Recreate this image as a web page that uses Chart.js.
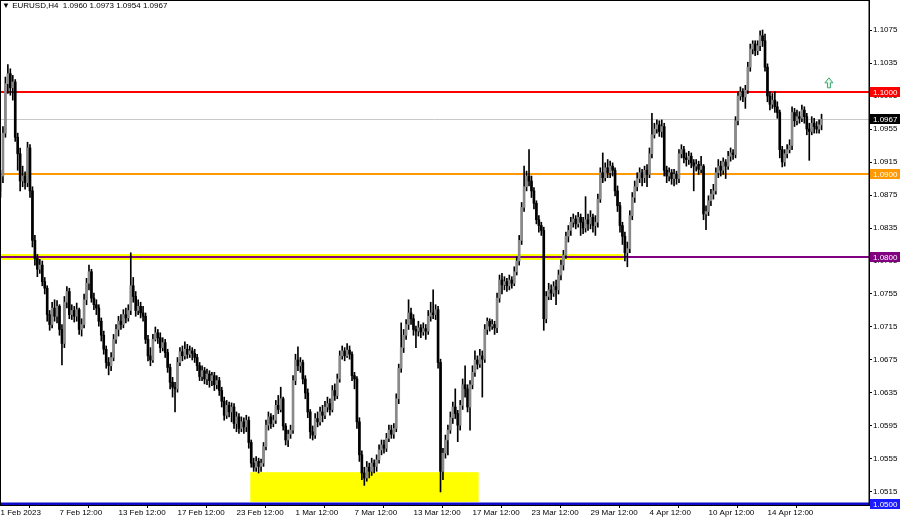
<!DOCTYPE html>
<html>
<head>
<meta charset="utf-8">
<script src="https://cdn.jsdelivr.net/npm/chart.js@4.4.0/dist/chart.umd.min.js"></script>
<style>
html, body { margin: 0; padding: 0; background: #fff; }
#wrap { position: relative; width: 900px; height: 519px; }
#hdr { position: absolute; left: 2px; top: 0; font: 8px "Liberation Sans", Arial, sans-serif; color: #000; white-space: pre; line-height: 12px; }
</style>
</head>
<body>
<div id="wrap">
  <canvas id="myChart" width="900" height="519"></canvas>
  <div id="hdr">▼ EURUSD,H4  1.0960 1.0973 1.0954 1.0967</div>
</div>
<script>
// EURUSD H4 candles (index 0 = 1 Feb 12:00)
var opens = [
1.0880,1.0898,1.0950,1.1010,1.1022,1.1005,1.1012,1.0945,1.0925,1.0892,
1.0898,1.0890,1.0932,1.0880,1.0820,1.0798,1.0785,1.0790,1.0770,1.0762,
1.0730,1.0718,1.0738,1.0728,1.0740,1.0712,1.0695,1.0745,1.0758,1.0730,
1.0735,1.0728,1.0736,1.0712,1.0718,1.0748,1.0768,1.0782,1.0750,1.0742,
1.0738,1.0722,1.0705,1.0688,1.0672,1.0668,1.0678,1.0700,1.0712,1.0722,
1.0718,1.0730,1.0726,1.0735,1.0765,1.0752,1.0735,1.0740,1.0732,1.0728,
1.0700,1.0680,1.0675,1.0700,1.0708,1.0702,1.0690,1.0696,1.0684,1.0666,
1.0648,1.0642,1.0640,1.0672,1.0685,1.0680,1.0688,1.0682,1.0686,1.0683,
1.0678,1.0668,1.0655,1.0662,1.0652,1.0658,1.0650,1.0656,1.0645,1.0650,
1.0638,1.0625,1.0608,1.0620,1.0612,1.0618,1.0598,1.0606,1.0592,1.0600,
1.0594,1.0602,1.0575,1.0550,1.0545,1.0552,1.0546,1.0550,1.0570,1.0596,
1.0606,1.0598,1.0602,1.0620,1.0615,1.0628,1.0595,1.0578,1.0585,1.0590,
1.0650,1.0675,1.0668,1.0672,1.0652,1.0635,1.0612,1.0588,1.0584,1.0604,
1.0600,1.0612,1.0608,1.0618,1.0622,1.0615,1.0638,1.0632,1.0652,1.0680,
1.0686,1.0680,1.0687,1.0682,1.0656,1.0652,1.0600,1.0560,1.0538,1.0532,
1.0545,1.0540,1.0550,1.0546,1.0554,1.0566,1.0572,1.0568,1.0580,1.0590,
1.0585,1.0592,1.0628,1.0665,1.0690,1.0705,1.0718,1.0732,1.0725,1.0712,
1.0710,1.0714,1.0709,1.0713,1.0710,1.0728,1.0732,1.0730,1.0736,1.0672,
1.0540,1.0562,1.0578,1.0590,1.0605,1.0618,1.0610,1.0596,1.0620,1.0645,
1.0640,1.0618,1.0645,1.0660,1.0675,1.0670,1.0680,1.0676,1.0712,1.0722,
1.0716,1.0718,1.0714,1.0750,1.0772,1.0766,1.0770,1.0765,1.0772,1.0768,
1.0782,1.0795,1.0820,1.0860,1.0885,1.0898,1.0892,1.0880,1.0865,1.0845,
1.0838,1.0832,1.0725,1.0752,1.0760,1.0756,1.0764,1.0760,1.0778,1.0790,
1.0802,1.0825,1.0832,1.0842,1.0846,1.0840,1.0848,1.0842,1.0835,1.0845,
1.0840,1.0848,1.0838,1.0842,1.0870,1.0902,1.0896,1.0908,1.0902,1.0910,
1.0905,1.0880,1.0862,1.0838,1.0825,1.0805,1.0810,1.0850,1.0872,1.0885,
1.0895,1.0902,1.0896,1.0905,1.0900,1.0925,1.0948,1.0955,1.0960,1.0952,
1.0958,1.0905,1.0898,1.0902,1.0895,1.0900,1.0895,1.0925,1.0930,1.0920,
1.0918,1.0922,1.0914,1.0910,1.0912,1.0906,1.0910,1.0852,1.0855,1.0868,
1.0876,1.0880,1.0902,1.0910,1.0905,1.0915,1.0910,1.0922,1.0926,1.0924,
1.0965,1.0995,1.1000,1.0994,1.1002,1.1030,1.1052,1.1058,1.1050,1.1056,
1.1068,1.1062,1.1030,1.0995,1.0985,1.0990,1.0982,1.0975,1.0930,1.0915,
1.0925,1.0930,1.0935,1.0975,1.0965,1.0970,1.0968,1.0978,1.0970,1.0955,
1.0952,1.0962,1.0958,1.0955,1.0960
];
var highs = [
1.0905,1.0958,1.1018,1.1033,1.1028,1.1020,1.1015,1.0950,1.0932,1.0910,
1.0903,1.0939,1.0936,1.0885,1.0826,1.0803,1.0797,1.0795,1.0775,1.0765,
1.0735,1.0745,1.0748,1.0747,1.0742,1.0718,1.0752,1.0764,1.0762,1.0742,
1.0740,1.0744,1.0738,1.0725,1.0755,1.0774,1.0790,1.0785,1.0756,1.0748,
1.0742,1.0726,1.0710,1.0692,1.0678,1.0684,1.0706,1.0718,1.0728,1.0730,
1.0736,1.0738,1.0742,1.0805,1.0775,1.0758,1.0748,1.0745,1.0740,1.0732,
1.0705,1.0690,1.0706,1.0715,1.0712,1.0708,1.0702,1.0700,1.0688,1.0670,
1.0654,1.0648,1.0678,1.0690,1.0692,1.0697,1.0694,1.0692,1.0690,1.0688,
1.0682,1.0672,1.0668,1.0666,1.0664,1.0662,1.0660,1.0660,1.0656,1.0654,
1.0642,1.0630,1.0626,1.0624,1.0623,1.0622,1.0612,1.0610,1.0606,1.0605,
1.0608,1.0606,1.0578,1.0556,1.0558,1.0556,1.0555,1.0575,1.0602,1.0612,
1.0610,1.0608,1.0626,1.0632,1.0642,1.0630,1.0598,1.0590,1.0596,1.0656,
1.0682,1.0691,1.0678,1.0675,1.0656,1.0640,1.0615,1.0595,1.0610,1.0612,
1.0618,1.0620,1.0625,1.0630,1.0628,1.0644,1.0646,1.0658,1.0686,1.0692,
1.0690,1.0695,1.0692,1.0685,1.0660,1.0655,1.0605,1.0565,1.0545,1.0552,
1.0550,1.0556,1.0554,1.0560,1.0572,1.0578,1.0578,1.0586,1.0596,1.0596,
1.0598,1.0634,1.0670,1.0720,1.0712,1.0724,1.0748,1.0738,1.0730,1.0716,
1.0722,1.0718,1.0720,1.0718,1.0735,1.0745,1.0760,1.0742,1.0740,1.0676,
1.0568,1.0584,1.0596,1.0612,1.0624,1.0640,1.0614,1.0626,1.0652,1.0668,
1.0645,1.0650,1.0668,1.0686,1.0680,1.0688,1.0686,1.0718,1.0726,1.0725,
1.0724,1.0722,1.0756,1.0778,1.0780,1.0776,1.0774,1.0778,1.0776,1.0788,
1.0800,1.0826,1.0866,1.0910,1.0904,1.0930,1.0898,1.0884,1.0868,1.0850,
1.0842,1.0836,1.0758,1.0768,1.0766,1.0770,1.0772,1.0784,1.0796,1.0808,
1.0830,1.0838,1.0848,1.0852,1.0850,1.0854,1.0852,1.0848,1.0873,1.0852,
1.0856,1.0852,1.0850,1.0876,1.0908,1.0926,1.0914,1.0918,1.0916,1.0914,
1.0908,1.0886,1.0866,1.0842,1.0830,1.0818,1.0856,1.0878,1.0892,1.0902,
1.0908,1.0906,1.0910,1.0912,1.0932,1.0974,1.0962,1.0966,1.0965,1.0966,
1.0962,1.0910,1.0908,1.0906,1.0906,1.0904,1.0930,1.0936,1.0934,1.0926,
1.0928,1.0926,1.0918,1.0918,1.0916,1.0922,1.0912,1.0862,1.0874,1.0882,
1.0888,1.0908,1.0918,1.0916,1.0920,1.0918,1.0928,1.0932,1.0930,1.0970,
1.1000,1.1006,1.1004,1.1008,1.1036,1.1058,1.1062,1.1062,1.1062,1.1074,
1.1075,1.1070,1.1034,1.1000,1.0998,1.1000,1.0988,1.0978,1.0934,1.0930,
1.0936,1.0942,1.0982,1.0980,1.0978,1.0976,1.0984,1.0982,1.0974,1.0962,
1.0970,1.0968,1.0964,1.0966,1.0973
];
var lows = [
1.0872,1.0890,1.0945,1.0998,1.0996,1.0990,1.0940,1.0905,1.0880,1.0885,
1.0882,1.0885,1.0872,1.0812,1.0790,1.0776,1.0780,1.0765,1.0755,1.0722,
1.0711,1.0714,1.0722,1.0720,1.0705,1.0669,1.0690,1.0738,1.0725,1.0724,
1.0721,1.0722,1.0706,1.0704,1.0714,1.0742,1.0760,1.0745,1.0736,1.0730,
1.0716,1.0698,1.0682,1.0665,1.0657,1.0662,1.0674,1.0695,1.0704,1.0712,
1.0714,1.0720,1.0722,1.0730,1.0745,1.0728,1.0730,1.0726,1.0722,1.0695,
1.0674,1.0668,1.0672,1.0698,1.0695,1.0684,1.0686,1.0678,1.0660,1.0640,
1.0630,1.0612,1.0636,1.0668,1.0674,1.0676,1.0677,1.0678,1.0675,1.0672,
1.0662,1.0650,1.0650,1.0646,1.0645,1.0642,1.0644,1.0638,1.0640,1.0632,
1.0618,1.0602,1.0604,1.0606,1.0600,1.0592,1.0588,1.0586,1.0588,1.0586,
1.0588,1.0568,1.0545,1.0540,1.0540,1.0538,1.0540,1.0546,1.0566,1.0590,
1.0592,1.0594,1.0598,1.0610,1.0612,1.0590,1.0572,1.0570,1.0580,1.0586,
1.0645,1.0662,1.0660,1.0646,1.0628,1.0605,1.0580,1.0578,1.0580,1.0594,
1.0596,1.0600,1.0604,1.0612,1.0608,1.0612,1.0626,1.0628,1.0648,1.0676,
1.0674,1.0678,1.0676,1.0650,1.0640,1.0592,1.0552,1.0530,1.0523,1.0528,
1.0532,1.0535,1.0538,1.0540,1.0550,1.0560,1.0562,1.0564,1.0576,1.0580,
1.0580,1.0588,1.0622,1.0660,1.0684,1.0700,1.0712,1.0718,1.0705,1.0690,
1.0704,1.0702,1.0705,1.0700,1.0706,1.0722,1.0725,1.0724,1.0665,1.0515,
1.0530,1.0556,1.0560,1.0586,1.0598,1.0604,1.0576,1.0590,1.0615,1.0630,
1.0612,1.0590,1.0640,1.0655,1.0664,1.0666,1.0630,1.0672,1.0706,1.0710,
1.0712,1.0706,1.0708,1.0745,1.0755,1.0760,1.0758,1.0760,1.0762,1.0765,
1.0778,1.0790,1.0815,1.0855,1.0880,1.0886,1.0872,1.0858,1.0840,1.0830,
1.0826,1.0711,1.0720,1.0748,1.0748,1.0752,1.0742,1.0755,1.0772,1.0784,
1.0798,1.0818,1.0826,1.0836,1.0834,1.0836,1.0826,1.0828,1.0830,1.0832,
1.0834,1.0830,1.0826,1.0836,1.0866,1.0890,1.0892,1.0896,1.0896,1.0898,
1.0874,1.0855,1.0830,1.0815,1.0795,1.0788,1.0805,1.0845,1.0866,1.0880,
1.0890,1.0886,1.0890,1.0885,1.0896,1.0920,1.0944,1.0950,1.0946,1.0945,
1.0898,1.0890,1.0892,1.0888,1.0886,1.0888,1.0890,1.0920,1.0914,1.0910,
1.0912,1.0908,1.0880,1.0904,1.0900,1.0902,1.0845,1.0833,1.0850,1.0862,
1.0870,1.0876,1.0896,1.0898,1.0900,1.0895,1.0906,1.0916,1.0918,1.0920,
1.0960,1.0990,1.0988,1.0980,1.0998,1.1025,1.1046,1.1044,1.1045,1.1050,
1.1055,1.1025,1.0988,1.0978,1.0980,1.0975,1.0968,1.0920,1.0909,1.0910,
1.0920,1.0926,1.0930,1.0958,1.0960,1.0962,1.0964,1.0962,1.0948,1.0917,
1.0948,1.0950,1.0950,1.0950,1.0954
];
var closes = [
1.0898,1.0950,1.1010,1.1022,1.1005,1.1012,1.0945,1.0925,1.0892,1.0898,
1.0890,1.0932,1.0880,1.0820,1.0798,1.0785,1.0790,1.0770,1.0762,1.0730,
1.0718,1.0738,1.0728,1.0740,1.0712,1.0695,1.0745,1.0758,1.0730,1.0735,
1.0728,1.0736,1.0712,1.0718,1.0748,1.0768,1.0782,1.0750,1.0742,1.0738,
1.0722,1.0705,1.0688,1.0672,1.0668,1.0678,1.0700,1.0712,1.0722,1.0718,
1.0730,1.0726,1.0735,1.0765,1.0752,1.0735,1.0740,1.0732,1.0728,1.0700,
1.0680,1.0675,1.0700,1.0708,1.0702,1.0690,1.0696,1.0684,1.0666,1.0648,
1.0642,1.0640,1.0672,1.0685,1.0680,1.0688,1.0682,1.0686,1.0683,1.0678,
1.0668,1.0655,1.0662,1.0652,1.0658,1.0650,1.0656,1.0645,1.0650,1.0638,
1.0625,1.0608,1.0620,1.0612,1.0618,1.0598,1.0606,1.0592,1.0600,1.0594,
1.0602,1.0575,1.0550,1.0545,1.0552,1.0546,1.0550,1.0570,1.0596,1.0606,
1.0598,1.0602,1.0620,1.0615,1.0628,1.0595,1.0578,1.0585,1.0590,1.0650,
1.0675,1.0668,1.0672,1.0652,1.0635,1.0612,1.0588,1.0584,1.0604,1.0600,
1.0612,1.0608,1.0618,1.0622,1.0615,1.0638,1.0632,1.0652,1.0680,1.0686,
1.0680,1.0687,1.0682,1.0656,1.0652,1.0600,1.0560,1.0538,1.0532,1.0545,
1.0540,1.0550,1.0546,1.0554,1.0566,1.0572,1.0568,1.0580,1.0590,1.0585,
1.0592,1.0628,1.0665,1.0690,1.0705,1.0718,1.0732,1.0725,1.0712,1.0710,
1.0714,1.0709,1.0713,1.0710,1.0728,1.0732,1.0730,1.0736,1.0672,1.0540,
1.0562,1.0578,1.0590,1.0605,1.0618,1.0610,1.0596,1.0620,1.0645,1.0640,
1.0618,1.0645,1.0660,1.0675,1.0670,1.0680,1.0676,1.0712,1.0722,1.0716,
1.0718,1.0714,1.0750,1.0772,1.0766,1.0770,1.0765,1.0772,1.0768,1.0782,
1.0795,1.0820,1.0860,1.0885,1.0898,1.0892,1.0880,1.0865,1.0845,1.0838,
1.0832,1.0725,1.0752,1.0760,1.0756,1.0764,1.0760,1.0778,1.0790,1.0802,
1.0825,1.0832,1.0842,1.0846,1.0840,1.0848,1.0842,1.0835,1.0845,1.0840,
1.0848,1.0838,1.0842,1.0870,1.0902,1.0896,1.0908,1.0902,1.0910,1.0905,
1.0880,1.0862,1.0838,1.0825,1.0805,1.0810,1.0850,1.0872,1.0885,1.0895,
1.0902,1.0896,1.0905,1.0900,1.0925,1.0948,1.0955,1.0960,1.0952,1.0958,
1.0905,1.0898,1.0902,1.0895,1.0900,1.0895,1.0925,1.0930,1.0920,1.0918,
1.0922,1.0914,1.0910,1.0912,1.0906,1.0910,1.0852,1.0855,1.0868,1.0876,
1.0880,1.0902,1.0910,1.0905,1.0915,1.0910,1.0922,1.0926,1.0924,1.0965,
1.0995,1.1000,1.0994,1.1002,1.1030,1.1052,1.1058,1.1050,1.1056,1.1068,
1.1062,1.1030,1.0995,1.0985,1.0990,1.0982,1.0975,1.0930,1.0915,1.0925,
1.0930,1.0935,1.0975,1.0965,1.0970,1.0968,1.0978,1.0970,1.0955,1.0952,
1.0962,1.0958,1.0955,1.0960,1.0967
];

// time axis labels (candle index where each label sits)
var xTickIdx = [0, 24, 48, 72, 96, 120, 144, 168, 192, 216, 240, 264, 288, 312];
var xTickText = ['1 Feb 2023', '7 Feb 12:00', '13 Feb 12:00', '17 Feb 12:00', '23 Feb 12:00', '1 Mar 12:00',
    '7 Mar 12:00', '13 Mar 12:00', '17 Mar 12:00', '23 Mar 12:00', '29 Mar 12:00', '4 Apr 12:00',
    '10 Apr 12:00', '14 Apr 12:00'];
var yTicks = [1.1075, 1.1035, 1.0995, 1.0955, 1.0915, 1.0875, 1.0835, 1.0795, 1.0755, 1.0715,
    1.0675, 1.0635, 1.0595, 1.0555, 1.0515];

// horizontal levels drawn on the chart
var levelPrices = [1.1000, 1.0900, 1.0800, 1.0500];
var levelColors = ['#ff0000', '#ff9900', '#800080', '#0a0ac8'];
var lastPrice = 1.0967;

// support zone (candle index range and price range)
var zoneFrom = 101.6, zoneTo = 194.5, zoneLow = 1.0503, zoneHigh = 1.0539;
var bandEnd = 253.3;      // yellow band on 1.0800 runs up to this candle
var arrowIdx = 337, arrowPrice = 1.1011;

var FONT = '"Liberation Sans", Arial, sans-serif';

var wicks = lows.map(function(lo, i){
    return {x: i, y: [lo, highs[i]]};
});
var bodies = opens.map(function(o, i){
    return {x: i, y: [o, closes[i]]};
});

var levelsPlugin = {
    id: 'levels',
    beforeDatasetsDraw: function(chart){
        var c = chart.ctx, xs = chart.scales.x, ys = chart.scales.y, a = chart.chartArea;
        c.save();
        c.beginPath();
        c.rect(a.left, a.top, a.right - a.left, a.bottom - a.top);
        c.clip();

        // yellow zone
        var zx0 = xs.getPixelForValue(zoneFrom), zx1 = xs.getPixelForValue(zoneTo);
        var zy0 = ys.getPixelForValue(zoneHigh), zy1 = ys.getPixelForValue(zoneLow);
        c.fillStyle = '#ffff00';
        c.fillRect(zx0, zy0, zx1 - zx0, zy1 - zy0);

        // yellow band under the 1.0800 level
        var by = Math.round(ys.getPixelForValue(1.0800));
        c.fillRect(a.left, by - 3, xs.getPixelForValue(bandEnd) - a.left, 6);

        // last price line
        var ly = Math.round(ys.getPixelForValue(lastPrice)) + 0.5;
        c.strokeStyle = '#c8c8c8';
        c.lineWidth = 1;
        c.beginPath();
        c.moveTo(a.left, ly);
        c.lineTo(a.right, ly);
        c.stroke();

        for (var i = 0; i < levelPrices.length; i++){
            var y = Math.round(ys.getPixelForValue(levelPrices[i]));
            c.strokeStyle = levelColors[i];
            c.lineWidth = i == 3 ? 3 : 2;
            c.beginPath();
            c.moveTo(a.left, y);
            c.lineTo(a.right, y);
            c.stroke();
        }
        c.restore();
    },
    afterDraw: function(chart){
        var c = chart.ctx, xs = chart.scales.x, ys = chart.scales.y, a = chart.chartArea;
        c.save();
        // frame
        c.strokeStyle = '#000';
        c.lineWidth = 1;
        c.strokeRect(a.left + 0.5, a.top + 0.5, a.right - a.left - 0.5, a.bottom - a.top);

        // price boxes on the right axis
        var boxPrices = [levelPrices[0], lastPrice, levelPrices[1], levelPrices[2], levelPrices[3]];
        var boxColors = [levelColors[0], '#000000', levelColors[1], levelColors[2], '#1a1aff'];
        c.font = '8px ' + FONT;
        c.textBaseline = 'middle';
        c.textAlign = 'left';
        for (var i = 0; i < boxPrices.length; i++){
            var y = Math.round(ys.getPixelForValue(boxPrices[i]));
            c.fillStyle = boxColors[i];
            c.fillRect(a.right + 1, y - 5, 31, 10);
            c.fillStyle = '#fff';
            c.fillText(boxPrices[i].toFixed(4), a.right + 4, y + 0.5);
        }

        // green up arrow
        var ax = xs.getPixelForValue(arrowIdx), ay = ys.getPixelForValue(arrowPrice);
        c.beginPath();
        c.moveTo(ax, ay - 5);
        c.lineTo(ax + 4, ay);
        c.lineTo(ax + 1.5, ay);
        c.lineTo(ax + 1.5, ay + 5);
        c.lineTo(ax - 1.5, ay + 5);
        c.lineTo(ax - 1.5, ay);
        c.lineTo(ax - 4, ay);
        c.closePath();
        c.fillStyle = '#e6f5ec';
        c.fill();
        c.strokeStyle = '#3aa86f';
        c.stroke();
        c.restore();
    }
};

var ctx = document.getElementById('myChart');
var myChart = new Chart(ctx, {
    type: 'bar',
    data: {
        datasets: [{
            label: 'wick',
            data: wicks,
            backgroundColor: '#000000',
            barThickness: 1,
            grouped: false,
            order: 2
        }, {
            label: 'body',
            data: bodies,
            backgroundColor: function(c){
                return closes[c.dataIndex] >= opens[c.dataIndex] ? '#8a8a8a' : '#000000';
            },
            borderColor: '#000000',
            borderWidth: 0,
            barThickness: 2,
            minBarLength: 1,
            grouped: false,
            order: 1
        }]
    },
    options: {
        responsive: false,
        animation: false,
        layout: { padding: 0 },
        plugins: {
            legend: { display: false },
            tooltip: { enabled: false },
            title: { display: false }
        },
        scales: {
            x: {
                type: 'linear',
                position: 'bottom',
                min: -0.2,
                max: 353.3,
                offset: false,
                afterBuildTicks: function(s){
                    s.ticks = xTickIdx.map(function(v){ return {value: v}; });
                },
                afterFit: function(s){
                    s.height = 14;
                    s.paddingLeft = 0;
                    s.paddingRight = 0;
                },
                grid: { drawOnChartArea: false, drawTicks: true, tickLength: 3, color: '#000' },
                border: { display: true, color: '#000' },
                ticks: {
                    autoSkip: false,
                    maxRotation: 0,
                    align: 'start',
                    padding: 0,
                    color: '#000',
                    font: { family: FONT, size: 8 },
                    callback: function(v){
                        var k = xTickIdx.indexOf(v);
                        return k < 0 ? '' : xTickText[k];
                    }
                }
            },
            y: {
                position: 'right',
                min: 1.04992,
                max: 1.11114,
                afterBuildTicks: function(s){
                    s.ticks = yTicks.map(function(v){ return {value: v}; });
                },
                afterFit: function(s){
                    s.width = 31;
                    s.paddingTop = 0;
                    s.paddingBottom = 0;
                },
                grid: { drawOnChartArea: false, drawTicks: true, tickLength: 3, color: '#000' },
                border: { display: true, color: '#000' },
                ticks: {
                    padding: 1,
                    color: '#000',
                    font: { family: FONT, size: 8 },
                    callback: function(v){ return v.toFixed(4); }
                }
            }
        }
    },
    plugins: [levelsPlugin]
});
</script>
</body>
</html>
